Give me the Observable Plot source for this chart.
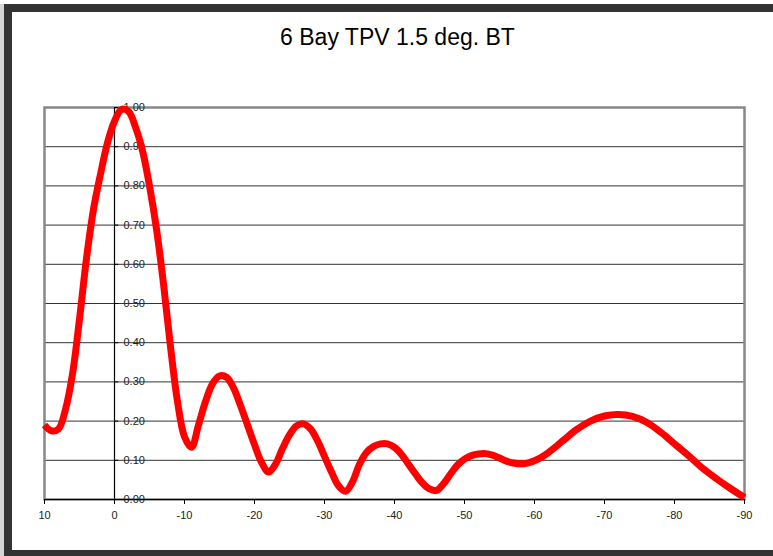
<!DOCTYPE html>
<html>
<head>
<meta charset="utf-8">
<script src="https://cdn.jsdelivr.net/npm/d3@7"></script>
<script src="https://cdn.jsdelivr.net/npm/@observablehq/plot@0.6"></script>
<style>
  html, body { margin: 0; padding: 0; background: #fff; overflow: hidden; }
  #wrap { position: relative; width: 773px; height: 556px; overflow: hidden; font-family: "Liberation Sans", Arial, sans-serif; }
  #strip { position: absolute; left: 0; top: 4px; width: 4px; height: 560px; background: #d4d4d4; }
  #frame { position: absolute; left: 4px; top: 4px; width: 820px; height: 538px; border-left: 8px solid #333; border-top: 8px solid #333; border-bottom: 8px solid #333; }
  #title { position: absolute; left: 0; width: 795px; top: 24px; text-align: center; font-size: 23px; color: #000; }
  #chart { position: absolute; left: 0; top: 0; }
</style>
</head>
<body>
<div id="wrap">
  <div id="strip"></div>
  <div id="frame"></div>
  <div id="title">6 Bay TPV 1.5 deg. BT</div>
  <div id="chart"></div>
</div>
<script>
const angles = [10, 9, 8, 7, 6, 5, 4, 3, 2, 1, 0, -1, -2, -3, -4, -5, -6, -7, -8, -9, -10,
  -11, -12, -13, -14, -15, -16, -17, -18, -19, -20, -21, -22, -23, -24, -25, -26, -27, -28, -29, -30,
  -31, -32, -33, -34, -35, -36, -37, -38, -39, -40, -41, -42, -43, -44, -45, -46, -47, -48, -49, -50,
  -51, -52, -53, -54, -55, -56, -57, -58, -59, -60, -61, -62, -64, -66, -68, -70, -72, -74, -76, -78, -80,
  -82, -84, -86, -88, -90];
const response = [0.19, 0.175, 0.18, 0.23, 0.32, 0.46, 0.615, 0.74, 0.83, 0.91, 0.965, 0.995, 0.99, 0.95, 0.89, 0.80, 0.69, 0.55, 0.39, 0.25, 0.16,
  0.133, 0.19, 0.25, 0.295, 0.315, 0.312, 0.285, 0.24, 0.19, 0.14, 0.095, 0.07, 0.09, 0.13, 0.165, 0.188, 0.193, 0.18, 0.15, 0.11,
  0.07, 0.035, 0.021, 0.045, 0.09, 0.12, 0.135, 0.142, 0.142, 0.133, 0.115, 0.09, 0.065, 0.042, 0.027, 0.023, 0.04, 0.065, 0.088, 0.103,
  0.112, 0.116, 0.117, 0.113, 0.106, 0.098, 0.093, 0.091, 0.093, 0.099, 0.108, 0.12, 0.149, 0.178, 0.20, 0.213, 0.217, 0.212, 0.197, 0.172, 0.142,
  0.112, 0.08, 0.053, 0.028, 0.005];
const xTicks = [10, 0, -10, -20, -30, -40, -50, -60, -70, -80, -90];
const yTicks = [0, 0.1, 0.2, 0.3, 0.4, 0.5, 0.6, 0.7, 0.8, 0.9, 1.0];

const data = angles.map((a, i) => ({angle: a, value: response[i]}));

const chart = Plot.plot({
  width: 773,
  height: 556,
  marginLeft: 44,
  marginRight: 29,
  marginTop: 107,
  marginBottom: 57,
  x: {domain: [10, -90], axis: null},
  y: {domain: [0, 1], axis: null},
  style: {fontFamily: "'Liberation Sans', Arial, sans-serif", background: "transparent", overflow: "visible", color: "#000"},
  marks: [
    Plot.ruleY(yTicks, {stroke: "#333", strokeWidth: 1}),
    Plot.frame({stroke: "#888", strokeWidth: 2.5}),
    Plot.ruleY([0], {stroke: "#000", strokeWidth: 1.2}),
    Plot.ruleX([0], {stroke: "#000", strokeWidth: 1.2}),
    Plot.ruleY(yTicks, {x1: 0, x2: -0.6, stroke: "#000"}),
    Plot.text(yTicks, {x: 0, y: d => d, text: d => d.toFixed(2), dx: 9, textAnchor: "start", fontSize: 11, fill: "#222"}),
    Plot.axisX(xTicks, {tickSize: 5, tickPadding: 7, fontSize: 11, label: null, tickFormat: d => String(d), stroke: "#000", fill: "#222"}),
    Plot.line(data, {x: "angle", y: "value", stroke: "#ff0000", strokeWidth: 7, curve: "catmull-rom", strokeLinecap: "butt"})
  ]
});
document.getElementById("chart").appendChild(chart);
</script>
</body>
</html>
